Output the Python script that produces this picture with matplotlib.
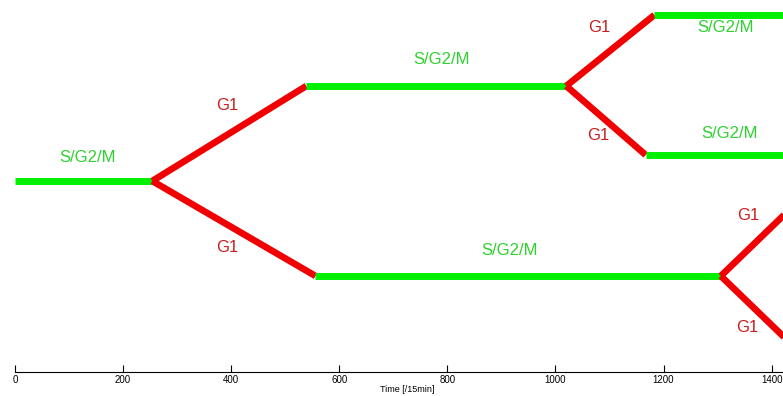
import matplotlib
matplotlib.use("Agg")
import matplotlib.pyplot as plt

# Lineage segments: start time, start y, end time, end y, phase
seg_t0 = [0, 254, 254, 539, 556, 1020, 1020, 1183, 1167, 1306, 1306]
seg_y0 = [191, 191, 191, 286, 96, 286, 286, 357, 217, 96, 96]
seg_t1 = [254, 539, 556, 1020, 1306, 1183, 1167, 1500, 1500, 1440, 1440]
seg_y1 = [191, 286, 96, 286, 96, 357, 217, 357, 217, 166, 26]
seg_phase = ["S/G2/M", "G1", "G1", "S/G2/M", "S/G2/M", "G1", "G1",
             "S/G2/M", "S/G2/M", "G1", "G1"]

# Phase labels
lab_t = [135, 393, 393, 789, 915, 1081, 1315, 1080, 1322, 1356, 1354]
lab_y = [215, 267, 125, 312, 122, 344, 344, 237, 239, 157, 44]
lab_text = ["S/G2/M", "G1", "G1", "S/G2/M", "S/G2/M", "G1", "S/G2/M",
            "G1", "S/G2/M", "G1", "G1"]

xticks = [0, 200, 400, 600, 800, 1000, 1200, 1400]

line_col = {"S/G2/M": "#00f000", "G1": "#f00000"}
text_col = {"S/G2/M": "#2ed12e", "G1": "#c81e1e"}
line_w = {"S/G2/M": 5.0, "G1": 4.8}

fig = plt.figure(figsize=(7.83, 3.96), dpi=100)
ax = fig.add_axes([15 / 783, 1 - 372 / 396, 1 - 15 / 783 + 0.02, 372 / 396])
ax.set_xlim(0, 1450)
ax.set_ylim(0, 372)

for t0, y0, t1, y1, ph in zip(seg_t0, seg_y0, seg_t1, seg_y1, seg_phase):
    ax.plot([t0, t1], [y0, y1], color=line_col[ph], lw=line_w[ph],
            solid_capstyle="butt", solid_joinstyle="miter", clip_on=True)

for t, y, s in zip(lab_t, lab_y, lab_text):
    ax.text(t, y, s, color=text_col[s], fontsize=12, family="Liberation Sans",
            ha="center", va="center")

for sp in ["top", "right", "left"]:
    ax.spines[sp].set_visible(False)
ax.spines["bottom"].set_linewidth(0.8)
ax.set_yticks([])
ax.set_xticks(xticks)
ax.set_xticklabels([str(v) for v in xticks], fontsize=7, family="Liberation Sans")
ax.tick_params(axis="x", direction="in", length=5, width=0.8, pad=2)
ax.set_xlabel("Time [/15min]", fontsize=6.5, family="Liberation Sans", labelpad=0)

fig.savefig("out.png", dpi=100)
